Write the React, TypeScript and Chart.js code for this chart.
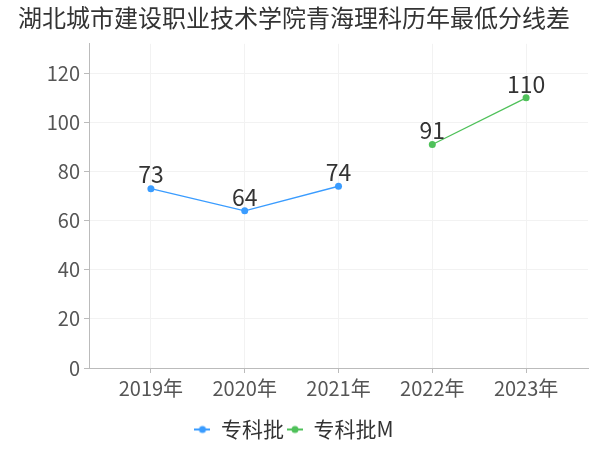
import React, { useEffect, useRef } from "react";
import { Chart, registerables } from "chart.js";

Chart.register(...registerables);

const titleText = "湖北城市建设职业技术学院青海理科历年最低分线差";
const categories = ["2019年", "2020年", "2021年", "2022年", "2023年"];
const seriesNames = ["专科批", "专科批M"];
const valuesA: (number | null)[] = [73, 64, 74, null, null];
const valuesB: (number | null)[] = [null, null, null, 91, 110];
const yTicks = [0, 20, 40, 60, 80, 100, 120];

const BLUE = "#3a9cff";
const GREEN = "#4fc15a";
const FONT = "'Noto Sans CJK SC', 'Noto Sans', sans-serif";

function legendIcon(color: string) {
  const c = document.createElement("canvas");
  c.width = 16;
  c.height = 10;
  const ctx = c.getContext("2d")!;
  ctx.strokeStyle = color;
  ctx.lineWidth = 2;
  ctx.beginPath();
  ctx.moveTo(0, 5);
  ctx.lineTo(16, 5);
  ctx.stroke();
  ctx.fillStyle = color;
  ctx.beginPath();
  ctx.arc(8, 5, 3.5, 0, Math.PI * 2);
  ctx.fill();
  return c;
}

const labelPlugin = {
  id: "valueLabels",
  afterDatasetsDraw(chart: any) {
    const ctx = chart.ctx;
    ctx.save();
    ctx.font = `23px ${FONT}`;
    ctx.fillStyle = "#333";
    ctx.textAlign = "center";
    ctx.textBaseline = "middle";
    chart.data.datasets.forEach((ds: any, di: number) => {
      const meta = chart.getDatasetMeta(di);
      meta.data.forEach((pt: any, i: number) => {
        const v = ds.data[i];
        if (!v || v.y == null) return;
        ctx.fillText(String(v.y), pt.x, pt.y - 14);
      });
    });
    ctx.restore();
  },
};

export default function App() {
  const ref = useRef<HTMLCanvasElement>(null);
  useEffect(() => {
    document.body.style.margin = "0";
    const toPts = (arr: (number | null)[]) =>
      arr.map((v, i) => ({ x: i, y: v }));
    const mk = (label: string, vals: (number | null)[], color: string) => ({
      label,
      data: toPts(vals) as any,
      borderColor: color,
      backgroundColor: color,
      borderWidth: 1.3,
      pointRadius: 3.5,
      pointBackgroundColor: color,
      pointBorderWidth: 0,
      pointStyle: "circle",
      spanGaps: false,
    });
    const chart = new Chart(ref.current!, {
      type: "line",
      data: {
        datasets: [
          mk(seriesNames[0], valuesA, BLUE),
          mk(seriesNames[1], valuesB, GREEN),
        ],
      },
      options: {
        responsive: false,
        animation: false,
        layout: { padding: { left: 0, right: 12, top: 0, bottom: 0 } },
        plugins: {
          title: {
            display: true,
            text: titleText,
            font: { family: FONT, size: 24, weight: "normal" },
            color: "#333",
            padding: { top: 3, bottom: 12 },
          },
          legend: {
            position: "bottom",
            labels: {
              usePointStyle: true,
              boxWidth: 16,
              boxHeight: 10,
              font: { family: FONT, size: 21 },
              color: "#333",
              padding: 3,
              generateLabels: (chart: any) =>
                chart.data.datasets.map((ds: any, i: number) => ({
                  text: ds.label,
                  fillStyle: ds.borderColor,
                  strokeStyle: ds.borderColor,
                  pointStyle: legendIcon(ds.borderColor),
                  datasetIndex: i,
                  fontColor: "#333",
                  lineWidth: 0,
                })),
            },
          },
          tooltip: { enabled: false },
        },
        scales: {
          x: {
            type: "linear",
            min: -0.66,
            max: 4.66,
            afterBuildTicks: (s: any) => {
              s.ticks = categories.map((_, i) => ({ value: i }));
            },
            afterFit: (s: any) => {
              s.height = 48;
            },
            ticks: {
              callback: (v: any) => categories[v] ?? "",
              font: { family: FONT, size: 20 },
              color: "#555",
              padding: 3,
              autoSkip: false,
              maxRotation: 0,
            },
            grid: { color: "#f2f2f2", tickColor: "#bbb", tickLength: 5 },
            border: { color: "#bbb" },
          },
          y: {
            min: 0,
            max: 132,
            afterBuildTicks: (s: any) => {
              s.ticks = yTicks.map((v) => ({ value: v }));
            },
            afterFit: (s: any) => {
              s.width = 89;
            },
            ticks: {
              font: { family: FONT, size: 20 },
              color: "#555",
              padding: 4,
            },
            grid: { color: "#f2f2f2", tickColor: "#bbb", tickLength: 5 },
            border: { color: "#bbb" },
          },
        },
      } as any,
      plugins: [labelPlugin],
    });
    return () => chart.destroy();
  }, []);
  return <canvas ref={ref} width={600} height={450} />;
}
